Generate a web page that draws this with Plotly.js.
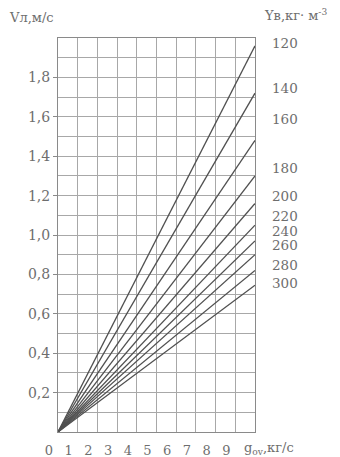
<!DOCTYPE html>
<html>
<head>
<meta charset="utf-8">
<script src="https://cdn.plot.ly/plotly-3.0.1.min.js"></script>
<style>html,body{margin:0;padding:0;background:#fff;}#chart{width:340px;height:457px;}</style>
</head>
<body>
<div id="chart"></div>
<script>
// Data
const densities = ["120", "140", "160", "180", "200", "220", "240", "260", "280", "300"];
const gValues = [0, 10];                       // g, кг/с (line start and end)
const vAtG10 = [1.96, 1.72, 1.48, 1.30, 1.16, 1.05, 0.97, 0.90, 0.82, 0.745]; // V at g=10
const xTickVals = [0, 1, 2, 3, 4, 5, 6, 7, 8, 9];
const xTickText = ["0", "1", "2", "3", "4", "5", "6", "7", "8", "9"];
const yTickVals = [0.2, 0.4, 0.6, 0.8, 1.0, 1.2, 1.4, 1.6, 1.8];
const yTickText = ["0,2", "0,4", "0,6", "0,8", "1,0", "1,2", "1,4", "1,6", "1,8"];

// label placement (layout only)
const labelY = [1.975, 1.745, 1.59, 1.34, 1.20, 1.097, 1.02, 0.95, 0.847, 0.755];

const txt = "#6e6e6e";
const font = {family: "DejaVu Serif, serif", size: 13, color: txt};

const traces = densities.map((d, i) => ({
  type: "scatter", mode: "lines",
  x: gValues, y: [0, vAtG10[i]],
  line: {color: "#505050", width: 1.3},
  hoverinfo: "skip", showlegend: false, name: d
}));

const annotations = densities.map((d, i) => ({
  text: d, xref: "paper", yref: "y", x: 1, y: labelY[i],
  xanchor: "left", yanchor: "middle", xshift: 15, showarrow: false,
  font: {family: "DejaVu Serif, serif", size: 13.5, color: txt}
}));
annotations.push({
  text: "Vл,м/с", xref: "paper", yref: "paper", x: -0.26, y: 1,
  xanchor: "left", yanchor: "middle", yshift: 21, showarrow: false, font: font
});
annotations.push({
  text: "Yв,кг· м<sup>-3</sup>", xref: "paper", yref: "paper", x: 1, y: 1,
  xanchor: "left", yanchor: "middle", xshift: 7, yshift: 23, showarrow: false, font: font
});
annotations.push({
  text: "g<sub>ov</sub>,кг/с", xref: "paper", yref: "paper", x: 0.932, y: 0,
  xanchor: "left", yanchor: "middle", yshift: -16, showarrow: false, font: font
});

const layout = {
  width: 340, height: 457,
  margin: {l: 58, r: 85, t: 38, b: 25, pad: 0},
  paper_bgcolor: "#fff", plot_bgcolor: "#fff",
  showlegend: false,
  font: font,
  xaxis: {
    range: [0, 10], tickmode: "array", tickvals: xTickVals, ticktext: xTickText,
    showgrid: true, gridcolor: "#a8a8a8", gridwidth: 1,
    showline: true, mirror: true, linecolor: "#8a8a8a", linewidth: 1,
    zeroline: false, ticks: "", ticklabelshift: -9, ticklabelstandoff: 6,
    tickfont: font, fixedrange: true,
    minor: {tickmode: "linear", tick0: 0, dtick: 1, showgrid: true, gridcolor: "#a8a8a8"}
  },
  yaxis: {
    range: [0, 2], tickmode: "array", tickvals: yTickVals, ticktext: yTickText,
    showgrid: true, gridcolor: "#a8a8a8", gridwidth: 1,
    showline: true, mirror: true, linecolor: "#8a8a8a", linewidth: 1,
    zeroline: false, ticks: "outside", ticklen: 4, tickcolor: "#8a8a8a",
    tickfont: {family: "DejaVu Serif, serif", size: 14, color: txt}, fixedrange: true,
    minor: {tickmode: "linear", tick0: 0, dtick: 0.1, showgrid: true, gridcolor: "#a8a8a8", ticks: ""}
  },
  annotations: annotations
};

Plotly.newPlot("chart", traces, layout, {displayModeBar: false, staticPlot: true});
</script>
</body>
</html>
